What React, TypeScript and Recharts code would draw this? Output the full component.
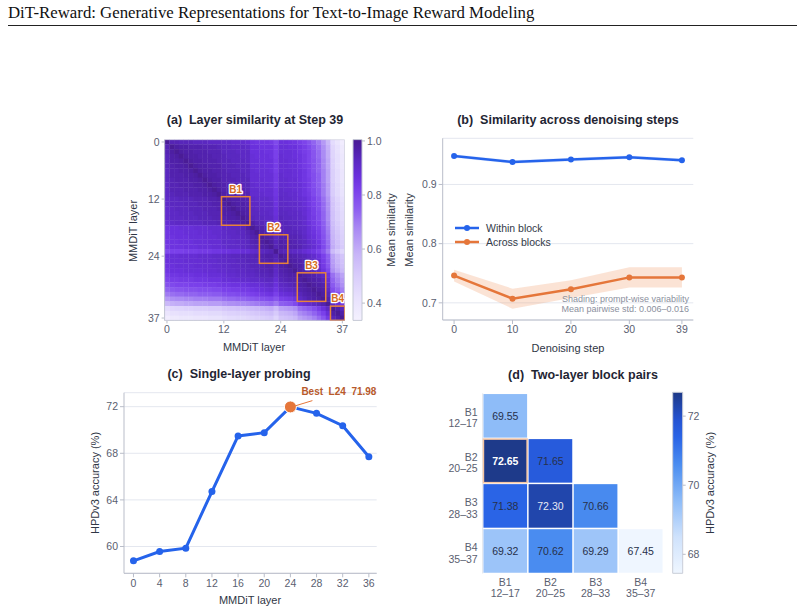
import {
  ScatterChart, Scatter, ComposedChart, LineChart, Line, Area, XAxis, YAxis,
  CartesianGrid, ReferenceArea, ReferenceDot,
} from 'recharts';

const FONT = '"Liberation Sans", Arial, Helvetica, sans-serif';
const TICK = { fontSize: 10.5, fill: '#5a6070', fontFamily: FONT };
const SPINE = '#b9bdc9';
const GRID = '#e4e7ef';
const BLUE = '#2563eb';
const ORANGE = '#e5763a';

// (a) layer-by-layer similarity at step 39, lower triangle, in hundredths
const LAYER_SIM_ROWS = [
  '100',
  '95 100',
  '95 98 100',
  '94 97 98 100',
  '94 97 97 98 100',
  '94 96 97 97 98 100',
  '93 96 96 97 97 98 100',
  '93 96 96 96 97 97 98 100',
  '93 95 96 96 96 97 97 98 100',
  '92 95 95 96 96 96 97 97 98 100',
  '92 95 95 95 96 96 96 97 97 98 100',
  '92 94 95 95 95 96 96 96 97 97 98 100',
  '91 93 93 94 94 94 95 95 95 96 96 97 100',
  '91 93 93 93 94 94 94 95 95 95 96 96 98 100',
  '90 92 93 93 93 94 94 94 95 95 95 96 97 98 100',
  '90 92 92 93 93 93 94 94 94 95 95 95 97 97 98 100',
  '90 92 92 92 93 93 93 94 94 94 95 95 96 97 97 98 100',
  '89 91 92 92 92 93 93 93 94 94 94 95 96 96 97 97 98 100',
  '86 87 87 88 88 88 89 89 89 90 90 90 92 92 93 93 94 97 100',
  '85 87 87 87 88 88 88 89 89 89 90 90 91 92 92 93 93 95 97 100',
  '85 86 87 87 87 88 88 88 89 89 89 90 91 91 92 92 93 94 96 97 100',
  '85 86 86 87 87 87 88 88 88 89 89 89 91 91 91 92 92 93 95 96 98 100',
  '84 86 86 86 87 87 87 88 88 88 89 89 90 91 91 91 92 93 94 95 97 98 100',
  '80 82 82 82 83 83 83 84 84 84 85 85 86 86 87 87 88 88 90 91 93 94 95 100',
  '87 88 88 89 89 89 89 90 90 90 91 91 92 92 93 93 94 94 94 95 96 97 97 95 100',
  '87 88 88 88 89 89 89 89 90 90 90 91 91 92 92 93 93 94 94 94 96 96 97 94 98 100',
  '86 87 88 88 88 88 89 89 89 89 90 90 91 91 92 92 93 93 94 94 95 96 96 93 97 98 100',
  '85 87 87 87 88 88 88 88 89 89 89 90 90 91 91 92 92 93 93 94 95 95 96 92 96 97 98 100',
  '83 85 85 86 86 86 87 87 87 88 88 88 89 90 90 91 91 92 92 93 94 94 95 91 95 96 97 97 100',
  '81 83 83 84 84 84 85 85 85 86 86 86 88 88 89 89 90 90 91 91 92 93 93 89 94 95 96 96 98 100',
  '78 80 81 81 81 82 82 82 83 83 83 84 85 85 86 86 86 87 88 88 89 90 91 87 92 93 94 95 97 98 100',
  '74 76 77 77 78 78 78 79 79 79 80 80 82 82 83 83 84 84 85 86 87 88 89 85 90 91 92 93 96 97 98 100',
  '70 72 73 73 74 74 74 75 75 75 76 76 78 79 79 80 80 81 82 83 84 85 86 82 87 88 89 91 94 96 97 98 100',
  '64 66 67 67 68 68 69 69 69 70 70 70 72 73 73 74 74 75 76 77 78 79 80 77 82 83 84 86 92 94 96 97 98 100',
  '57 59 60 60 61 61 62 62 62 63 63 63 65 66 66 67 67 68 69 70 71 72 73 70 75 76 77 80 86 88 90 92 94 96 100',
  '44 46 47 47 48 48 49 49 49 50 50 50 52 53 53 54 54 55 56 57 58 59 60 56 62 63 64 66 72 74 76 79 83 87 92 100',
  '40 42 42 43 43 43 44 44 44 45 45 45 47 48 48 49 49 50 51 52 53 54 55 51 57 58 59 61 67 69 71 74 78 82 88 97 100',
  '36 38 38 39 39 39 40 40 40 41 41 41 43 44 44 45 45 46 47 48 49 50 51 47 53 54 55 57 62 64 66 69 73 77 84 94 97 100',
];
const LAYER_TICKS = [0, 12, 24, 37];
const SIM_TICKS = [0.4, 0.6, 0.8, 1.0];
const SIM_RANGE: [number, number] = [0.336, 1.005];
const BLOCK_NAMES = ['B1', 'B2', 'B3', 'B4'];
const BLOCK_SPANS = [[12, 17], [20, 25], [28, 33], [35, 37]];

// (b) mean similarity and prompt-wise std across denoising steps
const STEPS = [0, 10, 20, 30, 39];
const WITHIN_MEAN = [0.948, 0.938, 0.942, 0.946, 0.941];
const WITHIN_STD = [0.003, 0.003, 0.003, 0.003, 0.003];
const ACROSS_MEAN = [0.746, 0.707, 0.723, 0.743, 0.743];
const ACROSS_STD = [0.010, 0.017, 0.015, 0.017, 0.017];

// (c) single-layer probe accuracy
const PROBE_LAYERS = [0, 4, 8, 12, 16, 20, 24, 28, 32, 36];
const PROBE_ACC = [58.77, 59.57, 59.86, 64.72, 69.49, 69.77, 71.98, 71.43, 70.37, 67.71];
const BEST_LAYER = 24;
const BEST_ACC = 71.98;

// (d) two-layer block pair accuracy (row block x column block)
const BLOCK_RANGES = ['12–17', '20–25', '28–33', '35–37'];
const PAIR_ACC = [
  [69.55],
  [72.65, 71.65],
  [71.38, 72.30, 70.66],
  [69.32, 70.62, 69.29, 67.45],
];
const ACC_TICKS = [68, 70, 72];
const ACC_RANGE: [number, number] = [67.45, 72.69];

// colour maps
const VIOLET: [number, string][] = [
  [0.336, '#f4f1fe'], [0.42, '#e8e1fd'], [0.5, '#d9cdfb'], [0.58, '#c8b5f8'],
  [0.68, '#a887f3'], [0.75, '#8d5ef0'], [0.82, '#7a40ea'], [0.87, '#6a30dc'],
  [0.93, '#5a28c0'], [0.97, '#4f20a8'], [1.0, '#4a1c96'],
];
const BLUES: [number, string][] = [
  [67.45, '#eff6ff'], [68.5, '#cfe2fc'], [69.55, '#8ebcf8'], [70.6, '#4b8df0'],
  [71.38, '#2a64e6'], [71.9, '#2453d2'], [72.65, '#1e3a8a'],
];

const rgb = (h: string) => [1, 3, 5].map((i) => parseInt(h.slice(i, i + 2), 16));
function colorAt(stops: [number, string][], v: number) {
  if (v <= stops[0][0]) return stops[0][1];
  for (let k = 1; k < stops.length; k++) {
    const [v1, c1] = stops[k];
    if (v <= v1) {
      const [v0, c0] = stops[k - 1];
      const t = (v - v0) / (v1 - v0);
      const a = rgb(c0), b = rgb(c1);
      return `rgb(${a.map((x, i) => Math.round(x + (b[i] - x) * t)).join(',')})`;
    }
  }
  return stops[stops.length - 1][1];
}

const simMatrix = LAYER_SIM_ROWS.map((r) => r.split(' ').map((s) => Number(s) / 100));
const nLayers = simMatrix.length;
const simCells: { x: number; y: number; v: number }[] = [];
for (let i = 0; i < nLayers; i++) {
  for (let j = 0; j < nLayers; j++) {
    simCells.push({ x: j, y: i, v: i >= j ? simMatrix[i][j] : simMatrix[j][i] });
  }
}
// outlined squares on the diagonal: whole-matrix frame, then the four blocks
const frameBox = [{ x: (nLayers - 1) / 2, y: (nLayers - 1) / 2, n: nLayers }];
const blockBoxes = BLOCK_SPANS.map(([a, b], k) => ({
  x: (a + b) / 2, y: (a + b) / 2, n: b - a + 1, name: BLOCK_NAMES[k],
}));

const stepRows = STEPS.map((s, i) => ({
  step: s,
  within: WITHIN_MEAN[i],
  withinBand: [WITHIN_MEAN[i] - WITHIN_STD[i], WITHIN_MEAN[i] + WITHIN_STD[i]],
  across: ACROSS_MEAN[i],
  acrossBand: [ACROSS_MEAN[i] - ACROSS_STD[i], ACROSS_MEAN[i] + ACROSS_STD[i]],
}));

const probeRows = PROBE_LAYERS.map((l, i) => ({ layer: l, acc: PROBE_ACC[i] }));

const pairCells = PAIR_ACC.flatMap((row, r) => row.map((acc, c) => ({ col: c, row: r, acc })));
const bestPair = Math.max(...pairCells.map((d) => d.acc));

// plain text placed over the figure
function Txt({ x, y, children, rotate = 0, anchor = 'middle', style = {} }: any) {
  const tx = anchor === 'middle' ? '-50%' : anchor === 'end' ? '-100%' : '0';
  return (
    <div
      style={{
        position: 'absolute', left: x, top: y, whiteSpace: 'pre', lineHeight: 1,
        transform: `translate(${tx}, -50%) rotate(${rotate}deg)`,
        fontFamily: FONT, ...style,
      }}
    >
      {children}
    </div>
  );
}

const titleStyle = { fontSize: 12.5, fontWeight: 700, color: '#1f2533' };
const axisLabelStyle = { fontSize: 11, color: '#2f3645' };

// ---------- (a) ----------
const A_W = 180.1, A_H = 180.8;
const simCellW = A_W / 38, simCellH = A_H / 38;

function SimCell(props: any) {
  const { cx, cy, payload } = props;
  return (
    <rect
      x={cx - simCellW / 2} y={cy - simCellH / 2}
      width={simCellW + 0.35} height={simCellH + 0.35}
      fill={colorAt(VIOLET, payload.v)}
    />
  );
}

function FrameShape(props: any) {
  const { cx, cy, payload } = props;
  const w = payload.n * simCellW, h = payload.n * simCellH;
  return <rect x={cx - w / 2} y={cy - h / 2} width={w} height={h} fill="none" stroke="#c5c9d5" strokeWidth={1} />;
}

function BlockBox(props: any) {
  const { cx, cy, payload } = props;
  const w = payload.n * simCellW, h = payload.n * simCellH;
  return (
    <g>
      <rect x={cx - w / 2} y={cy - h / 2} width={w} height={h} fill="none" stroke="#e8833a" strokeWidth={1.5} />
      <text
        x={cx} y={cy - h / 2 - 4} textAnchor="middle"
        fontSize={10} fontWeight={700} fontFamily={FONT}
        fill="#d66d22" stroke="#ffffff" strokeWidth={2.5} strokeLinejoin="round"
        style={{ paintOrder: 'stroke' }}
      >
        {payload.name}
      </text>
    </g>
  );
}

function LayerSimilarity() {
  return (
    <div style={{ position: 'absolute', left: 100, top: 130 }}>
      <ScatterChart width={260} height={230} margin={{ top: 9.6, right: 15.3, bottom: 19.6, left: 34.6 }}>
        <XAxis
          type="number" dataKey="x" domain={[-0.5, 37.5]} ticks={LAYER_TICKS}
          height={20} tick={TICK} tickSize={3} stroke={SPINE} allowDataOverflow
        />
        <YAxis
          type="number" dataKey="y" domain={[-0.5, 37.5]} ticks={LAYER_TICKS} reversed
          width={30} tick={TICK} tickSize={3} stroke={SPINE} allowDataOverflow
        />
        <Scatter data={simCells} shape={SimCell} isAnimationActive={false} />
        <Scatter data={frameBox} shape={FrameShape} isAnimationActive={false} />
        <Scatter data={blockBoxes} shape={BlockBox} isAnimationActive={false} />
      </ScatterChart>
    </div>
  );
}

function SimColorbar() {
  const span = SIM_RANGE[1] - SIM_RANGE[0];
  return (
    <div style={{ position: 'absolute', left: 340, top: 130 }}>
      <ComposedChart width={70} height={220} data={[{ x: 0 }, { x: 1 }]} margin={{ top: 9.6, right: 8, bottom: 29.6, left: 13 }}>
        <defs>
          <linearGradient id="simGrad" x1="0" y1="1" x2="0" y2="0">
            {VIOLET.map(([v, c]) => (
              <stop key={v} offset={`${(((v - SIM_RANGE[0]) / span) * 100).toFixed(2)}%`} stopColor={c} />
            ))}
          </linearGradient>
        </defs>
        <XAxis type="number" dataKey="x" domain={[0, 1]} hide />
        <YAxis
          orientation="right" type="number" domain={SIM_RANGE} ticks={SIM_TICKS} allowDataOverflow
          tickFormatter={(v: number) => v.toFixed(1)} width={40} tick={TICK} tickSize={3}
          axisLine={false} tickLine={{ stroke: SPINE }}
        />
        <ReferenceArea x1={0} x2={1} y1={SIM_RANGE[0]} y2={SIM_RANGE[1]} fill="url(#simGrad)" fillOpacity={1} stroke="#c5c9d5" />
      </ComposedChart>
    </div>
  );
}

// ---------- (b) ----------
const legendItems = [
  { name: 'Within block', color: BLUE },
  { name: 'Across blocks', color: ORANGE },
];

function StepLegend() {
  return (
    <div style={{ position: 'absolute', left: 455, top: 220.7, fontFamily: FONT, fontSize: 10.5, color: '#333a48' }}>
      {legendItems.map((it) => (
        <div key={it.name} style={{ display: 'flex', alignItems: 'center', height: 14 }}>
          <svg width={24} height={10} style={{ marginRight: 7 }}>
            <line x1={0} y1={5} x2={24} y2={5} stroke={it.color} strokeWidth={2.5} />
            <circle cx={12} cy={5} r={3} fill={it.color} />
          </svg>
          <span>{it.name}</span>
        </div>
      ))}
    </div>
  );
}

function StepSimilarity() {
  return (
    <div style={{ position: 'absolute', left: 400, top: 128 }}>
      <ComposedChart width={300} height={230} data={stepRows} margin={{ top: 10.3, right: 6.7, bottom: 18, left: 10.7 }}>
        <CartesianGrid vertical={false} stroke={GRID} />
        <XAxis
          type="number" dataKey="step" domain={[-1.95, 40.95]} ticks={STEPS}
          height={20} tick={TICK} tickSize={4} stroke={SPINE}
        />
        <YAxis
          type="number" domain={[0.671, 0.978]} ticks={[0.7, 0.8, 0.9]} allowDataOverflow
          tickFormatter={(v: number) => v.toFixed(1)} width={32} tick={TICK} tickSize={4} stroke={SPINE}
        />
        <Area type="linear" dataKey="withinBand" stroke="none" fill={BLUE} fillOpacity={0.13} isAnimationActive={false} />
        <Area type="linear" dataKey="acrossBand" stroke="none" fill="#f2a373" fillOpacity={0.3} isAnimationActive={false} />
        <Line type="linear" dataKey="within" stroke={BLUE} strokeWidth={2.5} dot={{ r: 3, fill: BLUE, stroke: BLUE, strokeWidth: 0 }} isAnimationActive={false} />
        <Line type="linear" dataKey="across" stroke={ORANGE} strokeWidth={2.5} dot={{ r: 3, fill: ORANGE, stroke: ORANGE, strokeWidth: 0 }} isAnimationActive={false} />
      </ComposedChart>
    </div>
  );
}

// ---------- (c) ----------
const bestLabel = (p: any) => {
  const { x, y, width, height } = p.viewBox;
  const cx = x + width / 2, cy = y + height / 2;
  return (
    <g>
      <line x1={cx + 4} y1={cy - 0.8} x2={cx + 22} y2={cy - 6.3} stroke={ORANGE} strokeWidth={1} />
      <text x={cx + 11} y={cy - 11.5} fontSize={10} fontWeight={700} fontFamily={FONT} fill="#b85a2b" style={{ whiteSpace: 'pre' }}>
        {`Best  L${BEST_LAYER}  ${BEST_ACC.toFixed(2)}`}
      </text>
    </g>
  );
};

function SingleLayerProbe() {
  return (
    <div style={{ position: 'absolute', left: 70, top: 380 }}>
      <LineChart width={320} height={230} data={probeRows} margin={{ top: 12.7, right: 13.3, bottom: 16.7, left: 24 }}>
        <CartesianGrid vertical={false} stroke={GRID} />
        <XAxis
          type="number" dataKey="layer" domain={[-1.45, 37.2]} ticks={PROBE_LAYERS}
          height={20} tick={TICK} tickSize={4} stroke={SPINE}
        />
        <YAxis
          type="number" domain={[57.7, 73.2]} ticks={[60, 64, 68, 72]} allowDataOverflow
          width={30} tick={TICK} tickSize={4} stroke={SPINE}
        />
        <Line type="linear" dataKey="acc" stroke={BLUE} strokeWidth={3} dot={{ r: 3.5, fill: BLUE, stroke: BLUE, strokeWidth: 0 }} isAnimationActive={false} />
        <ReferenceDot x={BEST_LAYER} y={BEST_ACC} r={6} fill={ORANGE} stroke="#ffffff" strokeWidth={1} label={bestLabel} />
      </LineChart>
    </div>
  );
}

// ---------- (d) ----------
const D_W = 180.6, D_H = 180.2;
const pairW = D_W / 4, pairH = D_H / 4;

function PairCell(props: any) {
  const { cx, cy, payload } = props;
  const isBest = payload.acc === bestPair;
  const lightText = payload.acc >= 72;
  return (
    <g>
      <rect
        x={cx - pairW / 2 + 0.75} y={cy - pairH / 2 + 0.75} width={pairW - 1.5} height={pairH - 1.5}
        fill={colorAt(BLUES, payload.acc)}
        stroke={isBest ? '#f6c6a4' : 'none'} strokeWidth={isBest ? 1.5 : 0}
      />
      <text
        x={cx} y={cy + 3.8} textAnchor="middle" fontSize={10.5} fontFamily={FONT}
        fontWeight={isBest ? 700 : 400} fill={isBest ? '#ffffff' : lightText ? '#e6e9f4' : '#27304a'}
      >
        {payload.acc.toFixed(2)}
      </text>
    </g>
  );
}

function BlockTickY(props: any) {
  const { x, y, payload } = props;
  return (
    <text x={x} y={y} textAnchor="end" fontSize={10.5} fill="#5a6070" fontFamily={FONT}>
      <tspan x={x} dy={0}>{BLOCK_NAMES[payload.value]}</tspan>
      <tspan x={x} dy={11.6}>{BLOCK_RANGES[payload.value]}</tspan>
    </text>
  );
}

function BlockTickX(props: any) {
  const { x, y, payload } = props;
  return (
    <text x={x} y={y} textAnchor="middle" fontSize={10.5} fill="#5a6070" fontFamily={FONT}>
      <tspan x={x} dy={7.2}>{BLOCK_NAMES[payload.value]}</tspan>
      <tspan x={x} dy={11.6}>{BLOCK_RANGES[payload.value]}</tspan>
    </text>
  );
}

function BlockPairs() {
  return (
    <div style={{ position: 'absolute', left: 420, top: 380 }}>
      <ScatterChart width={250} height={235} margin={{ top: 13.3, right: 6.7, bottom: 11.5, left: 12.7 }}>
        <XAxis
          type="number" dataKey="col" domain={[-0.5, 3.5]} ticks={[0, 1, 2, 3]}
          height={30} tick={<BlockTickX />} tickSize={3} tickMargin={2} axisLine={false} tickLine={false}
        />
        <YAxis
          type="number" dataKey="row" domain={[-0.5, 3.5]} ticks={[0, 1, 2, 3]} reversed
          width={50} tick={<BlockTickY />} tickSize={3} tickMargin={2} stroke="#e1e4ec" tickLine={false}
        />
        <Scatter data={pairCells} shape={PairCell} isAnimationActive={false} />
      </ScatterChart>
    </div>
  );
}

function AccColorbar() {
  const span = ACC_RANGE[1] - ACC_RANGE[0];
  return (
    <div style={{ position: 'absolute', left: 660, top: 380 }}>
      <ComposedChart width={60} height={210} data={[{ x: 0 }, { x: 1 }]} margin={{ top: 12.3, right: 1.3, bottom: 16.7, left: 12.7 }}>
        <defs>
          <linearGradient id="accGrad" x1="0" y1="1" x2="0" y2="0">
            {BLUES.map(([v, c]) => (
              <stop key={v} offset={`${(((v - ACC_RANGE[0]) / span) * 100).toFixed(2)}%`} stopColor={c} />
            ))}
          </linearGradient>
        </defs>
        <XAxis type="number" dataKey="x" domain={[0, 1]} hide />
        <YAxis
          orientation="right" type="number" domain={ACC_RANGE} ticks={ACC_TICKS} allowDataOverflow
          width={36} tick={TICK} tickSize={3} axisLine={false} tickLine={{ stroke: SPINE }}
        />
        <ReferenceArea x1={0} x2={1} y1={ACC_RANGE[0]} y2={ACC_RANGE[1]} fill="url(#accGrad)" fillOpacity={1} stroke="#c9cdd8" />
      </ComposedChart>
    </div>
  );
}

export default function App() {
  return (
    <div style={{ position: 'absolute', left: 0, top: 0, width: 804, height: 614, background: '#ffffff', overflow: 'hidden' }}>
      <div style={{ position: 'absolute', left: 8, top: 3, fontFamily: '"Liberation Serif", "Times New Roman", serif', fontSize: 16.8, color: '#111', whiteSpace: 'pre' }}>
        DiT-Reward: Generative Representations for Text-to-Image Reward Modeling
      </div>
      <div style={{ position: 'absolute', left: 8, top: 25, width: 789, height: 1, background: '#222' }} />

      <LayerSimilarity />
      <SimColorbar />
      <StepSimilarity />
      <StepLegend />
      <SingleLayerProbe />
      <BlockPairs />
      <AccColorbar />

      <Txt x={255} y={120} style={titleStyle}>(a)  Layer similarity at Step 39</Txt>
      <Txt x={568} y={120} style={titleStyle}>(b)  Similarity across denoising steps</Txt>
      <Txt x={239} y={374} style={titleStyle}>(c)  Single-layer probing</Txt>
      <Txt x={583} y={375} style={titleStyle}>(d)  Two-layer block pairs</Txt>

      <Txt x={254} y={347} style={axisLabelStyle}>MMDiT layer</Txt>
      <Txt x={133} y={231} rotate={-90} style={axisLabelStyle}>MMDiT layer</Txt>
      <Txt x={391} y={230} rotate={-90} style={axisLabelStyle}>Mean similarity</Txt>

      <Txt x={568} y={348} style={axisLabelStyle}>Denoising step</Txt>
      <Txt x={409} y={230} rotate={-90} style={axisLabelStyle}>Mean similarity</Txt>
      <Txt x={689} y={299.3} anchor="end" style={{ fontSize: 9, color: '#8b909e' }}>Shading: prompt-wise variability</Txt>
      <Txt x={689} y={308.7} anchor="end" style={{ fontSize: 9, color: '#8b909e' }}>Mean pairwise std: 0.006–0.016</Txt>

      <Txt x={250} y={600} style={axisLabelStyle}>MMDiT layer</Txt>
      <Txt x={95} y={483} rotate={-90} style={axisLabelStyle}>HPDv3 accuracy (%)</Txt>

      <Txt x={710} y={483} rotate={-90} style={axisLabelStyle}>HPDv3 accuracy (%)</Txt>
    </div>
  );
}
